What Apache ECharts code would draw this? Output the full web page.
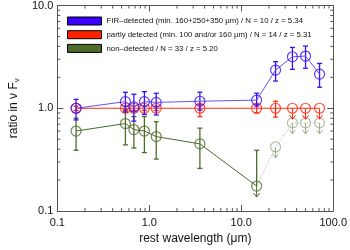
<!DOCTYPE html>
<html>
<head>
<meta charset="utf-8">
<script src="https://cdn.jsdelivr.net/npm/echarts@6/dist/echarts.min.js"></script>
<style>html,body{margin:0;padding:0;background:#fff}#c{width:350px;height:250px}</style>
</head>
<body>
<div id="c"></div>
<script>
// ---- data ----
const wavelengths = [0.16, 0.55, 0.68, 0.885, 1.19, 3.55, 14.7, 23.6, 36, 50, 71];

const firValues = [1.0, 1.16, 1.03, 1.16, 1.14, 1.17, 1.20, 2.35, 3.17, 3.22, 2.15];
const firLow    = [0.77, 0.92, 0.75, 0.87, 0.86, 0.96, 1.05, 1.84, 2.39, 2.45, 1.60];
const firHigh   = [1.22, 1.43, 1.37, 1.45, 1.40, 1.43, 1.40, 2.84, 3.91, 4.03, 2.73];

const partlyValues = [1.0, 1.0, 1.0, 1.0, 1.0, 1.0, 1.0, 1.0, 1.0, 1.0, 1.0];
const partlyLow    = [0.95, 0.95, 0.95, 0.95, 0.95, 0.83, 0.90, 0.82, null, null, null];
const partlyHigh   = [1.05, 1.05, 1.05, 1.05, 1.05, 1.09, 1.10, 1.17, null, null, null];
const partlyUpperLimit = [false, false, false, false, false, false, false, false, true, true, true];

const nonValues = [0.60, 0.71, 0.62, 0.60, 0.53, 0.45, 0.175, 0.42, 0.72, 0.72, 0.72];
const nonLow    = [0.39, 0.44, 0.41, 0.37, 0.32, 0.26, null, null, null, null, null];
const nonHigh   = [0.80, 0.98, 0.83, 0.83, 0.74, 0.64, 0.39, null, null, null, null];
const nonUpperLimit = [false, false, false, false, false, false, true, true, true, true, true];
const nonFaint = [false, false, false, false, false, false, false, true, true, true, true];

const legendNames = [
  'FIR\u2013detected (min. 160+250+350 \u03bcm) / N = 10 / z = 5.34',
  'partly detected (min. 100 and/or 160 \u03bcm) / N = 14 / z = 5.31',
  'non\u2013detected / N = 33 / z = 5.20'
];
const minorX = [0.2,0.3,0.4,0.5,0.6,0.7,0.8,0.9,2,3,4,5,6,7,8,9,20,30,40,50,60,70,80,90];
const minorY = [0.2,0.3,0.4,0.5,0.6,0.7,0.8,0.9,2,3,4,5,6,7,8,9];

// ---- styles ----
const BLUE = '#3a10f2', BLUE_LINE = '#6a52f5';
const RED = '#ff2a10';
const GREEN = '#4f6b2c', GREEN_FAINT = '#9fae8c';
const AXIS = '#555';
const FONT = 'Liberation Sans, Arial, sans-serif';

function pairs(vals, mask) {
  return wavelengths.map((x, i) => (mask && !mask[i]) ? [x, null] : [x, vals[i]]);
}
const valueLookup = {errBlue: firValues, errRed: partlyValues, errGreen: nonValues};
function errorSeries(id, lo, hi, colorFn) {
  const vals = valueLookup[id];
  const d = [];
  wavelengths.forEach((x, i) => { if (lo[i] != null || hi[i] != null) d.push([x, vals[i], i]); });
  return {
    id: id, type: 'custom', silent: true, z: 3, data: d,
    renderItem: function (params, api) {
      const x = api.value(0), idx = api.value(2);
      const col = colorFn(idx);
      const cap = 2.5;
      const ctr = api.coord([x, vals[idx]]);
      const yT = hi[idx] != null ? api.coord([x, hi[idx]])[1] : null;
      const yB = lo[idx] != null ? api.coord([x, lo[idx]])[1] : null;
      const children = [{type: 'line', shape: {x1: ctr[0], y1: yT != null ? yT : ctr[1], x2: ctr[0], y2: yB != null ? yB : ctr[1]}, style: {stroke: col, lineWidth: 1.3}}];
      if (yT != null) children.push({type: 'line', shape: {x1: ctr[0] - cap, y1: yT, x2: ctr[0] + cap, y2: yT}, style: {stroke: col, lineWidth: 1.3}});
      if (yB != null) children.push({type: 'line', shape: {x1: ctr[0] - cap, y1: yB, x2: ctr[0] + cap, y2: yB}, style: {stroke: col, lineWidth: 1.3}});
      return {type: 'group', children: children};
    }
  };
}

function arrowSeries(vals, mask, colorFn) {
  const d = [];
  wavelengths.forEach((x, i) => { if (mask[i]) d.push([x, vals[i], i]); });
  return {
    type: 'custom', silent: true, z: 3, data: d,
    renderItem: function (params, api) {
      const p = api.coord([api.value(0), api.value(1)]);
      const col = colorFn(api.value(2));
      const len = 11, hw = 3, hh = 4;
      return {type: 'group', children: [
        {type: 'line', shape: {x1: p[0], y1: p[1], x2: p[0], y2: p[1] + len}, style: {stroke: col, lineWidth: 1}},
        {type: 'polyline', shape: {points: [[p[0] - hw, p[1] + len - hh], [p[0], p[1] + len], [p[0] + hw, p[1] + len - hh]]}, style: {stroke: col, fill: null, lineWidth: 1}}
      ]};
    }
  };
}

const chart = echarts.init(document.getElementById('c'), null, {renderer: 'canvas'});
const labelFmt = v => (Math.abs(v - 0.1) < 1e-6 ? '0.1' : Number(v).toFixed(1));

const baseX = {
  type: 'log', logBase: 10, min: 0.1, max: 100,
  axisLine: {show: true, lineStyle: {color: AXIS, width: 1}},
  axisTick: {show: true, inside: true, length: 6, lineStyle: {color: AXIS}},
  splitLine: {show: false}, minorTick: {show: false}
};
const baseY = {
  type: 'log', logBase: 10, min: 0.1, max: 10,
  axisLine: {show: true, lineStyle: {color: AXIS, width: 1}},
  axisTick: {show: true, inside: true, length: 6, lineStyle: {color: AXIS}},
  splitLine: {show: false}, minorTick: {show: false}
};

const minorSeries = {
  type: 'custom', silent: true, z: 1,
  data: minorX.map(v => [v, 1]).concat(minorY.map(v => [1, v])),
  renderItem: function (params, api) {
    const cs = params.coordSys;
    const len = 3;
    if (params.dataIndex < minorX.length) {
      const px = api.coord([api.value(0), 1])[0];
      return {type: 'group', children: [
        {type: 'line', shape: {x1: px, y1: cs.y + cs.height, x2: px, y2: cs.y + cs.height - len}, style: {stroke: AXIS, lineWidth: 1}},
        {type: 'line', shape: {x1: px, y1: cs.y, x2: px, y2: cs.y + len}, style: {stroke: AXIS, lineWidth: 1}}
      ]};
    } else {
      const py = api.coord([1, api.value(1)])[1];
      return {type: 'group', children: [
        {type: 'line', shape: {x1: cs.x, y1: py, x2: cs.x + len, y2: py}, style: {stroke: AXIS, lineWidth: 1}},
        {type: 'line', shape: {x1: cs.x + cs.width, y1: py, x2: cs.x + cs.width - len, y2: py}, style: {stroke: AXIS, lineWidth: 1}}
      ]};
    }
  }
};

const option = {
  animation: false,
  backgroundColor: '#fff',
  textStyle: {fontFamily: FONT},
  grid: {left: 53, right: 15, top: 5, bottom: 39, containLabel: false},
  legend: {
    show: true, selectedMode: false, orient: 'vertical',
    left: 62, top: 11.5, itemWidth: 34, itemHeight: 8, itemGap: 4.7,
    textStyle: {fontSize: 7.8, color: '#111', fontFamily: FONT, lineHeight: 8},
    data: [
      {name: legendNames[0], icon: 'rect', itemStyle: {color: '#3a00ff', borderColor: '#000', borderWidth: 1}},
      {name: legendNames[1], icon: 'rect', itemStyle: {color: '#ff2200', borderColor: '#000', borderWidth: 1}},
      {name: legendNames[2], icon: 'rect', itemStyle: {color: '#4f6b2c', borderColor: '#000', borderWidth: 1}}
    ]
  },
  xAxis: [
    Object.assign({}, baseX, {
      position: 'bottom',
      name: 'rest wavelength (\u03bcm)', nameLocation: 'middle', nameGap: 21,
      nameTextStyle: {fontSize: 12, color: '#111', fontFamily: FONT},
      axisLabel: {show: true, fontSize: 11, color: '#111', margin: 6, formatter: labelFmt, fontFamily: FONT}
    }),
    Object.assign({}, baseX, {position: 'top', axisLabel: {show: false}})
  ],
  yAxis: [
    Object.assign({}, baseY, {
      position: 'left',
      name: 'ratio in \u03bd F{s|\u03bd}', nameLocation: 'middle', nameGap: 34,
      nameTextStyle: {fontSize: 12, color: '#111', fontFamily: FONT, rich: {s: {fontSize: 8, verticalAlign: 'bottom', padding: [6, 0, 0, 0], fontFamily: FONT, color: '#111'}}},
      axisLabel: {show: true, fontSize: 11, color: '#111', margin: 4, formatter: labelFmt, fontFamily: FONT}
    }),
    Object.assign({}, baseY, {position: 'right', axisLabel: {show: false}})
  ],
  series: [
    minorSeries,
    // non-detected
    {name: legendNames[2], type: 'line', z: 2, data: pairs(nonValues, wavelengths.map((x, i) => i <= 6)),
     symbol: 'none', lineStyle: {color: GREEN, width: 1}, itemStyle: {color: GREEN}, connectNulls: false},
    {type: 'line', z: 2, data: pairs(nonValues, wavelengths.map((x, i) => i >= 6)),
     symbol: 'none', lineStyle: {color: GREEN_FAINT, width: 1, type: [1, 2]}, connectNulls: false},
    errorSeries('errGreen', nonLow, nonHigh, i => nonFaint[i] ? GREEN_FAINT : GREEN),
    arrowSeries(nonValues, nonUpperLimit, i => nonFaint[i] ? GREEN_FAINT : GREEN),
    {type: 'scatter', z: 4, data: wavelengths.map((x, i) => ({value: [x, nonValues[i]], itemStyle: {borderColor: nonFaint[i] ? GREEN_FAINT : GREEN}})),
     symbol: 'circle', symbolSize: 10, itemStyle: {color: 'rgba(0,0,0,0)', borderWidth: 1.2}},
    // partly detected
    {name: legendNames[1], type: 'line', z: 5, data: pairs(partlyValues), symbol: 'none', lineStyle: {color: RED, width: 1}, itemStyle: {color: RED}},
    Object.assign(errorSeries('errRed', partlyLow, partlyHigh, () => RED), {z: 5}),
    Object.assign(arrowSeries(partlyValues, partlyUpperLimit, () => RED), {z: 5}),
    {type: 'scatter', z: 6, data: pairs(partlyValues), symbol: 'circle', symbolSize: 10,
     itemStyle: {color: 'rgba(0,0,0,0)', borderColor: RED, borderWidth: 1.2}},
    // FIR-detected
    {name: legendNames[0], type: 'line', z: 7, data: pairs(firValues), symbol: 'none', lineStyle: {color: BLUE_LINE, width: 1}, itemStyle: {color: BLUE}},
    Object.assign(errorSeries('errBlue', firLow, firHigh, () => BLUE), {z: 7}),
    {type: 'scatter', z: 8, data: pairs(firValues), symbol: 'circle', symbolSize: 10,
     itemStyle: {color: 'rgba(0,0,0,0)', borderColor: BLUE, borderWidth: 1.2}}
  ]
};
chart.setOption(option);
</script>
</body>
</html>
